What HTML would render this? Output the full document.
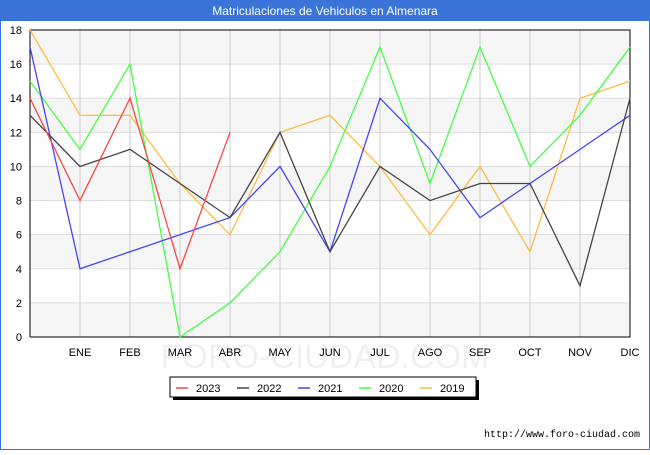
<!DOCTYPE html>
<html><head><meta charset="utf-8"><style>
body{margin:0;width:650px;height:450px;overflow:hidden;background:#fff;font-family:"Liberation Sans","DejaVu Sans",sans-serif}
</style></head><body>
<svg id="c" width="650" height="450" xmlns="http://www.w3.org/2000/svg">
<rect x="0.5" y="0.5" width="649" height="449" fill="#fff" stroke="#3a74d8"/>
<rect x="0" y="0" width="650" height="21" fill="#3a74d8"/>
<text x="325" y="15" text-anchor="middle" font-size="12" fill="#fff">Matriculaciones de Vehiculos en Almenara</text>
<text x="325" y="368" text-anchor="middle" font-size="34" fill="#eef0f6">FORO-CIUDAD.COM</text>
<g id="plot"></g>
<text x="640" y="437" text-anchor="end" font-size="10" font-family="Liberation Mono,monospace" fill="#000">http://www.foro-ciudad.com</text>
</svg>
<script>
const months=["","ENE","FEB","MAR","ABR","MAY","JUN","JUL","AGO","SEP","OCT","NOV","DIC"];
const yTicks=[0,2,4,6,8,10,12,14,16,18];
const years=["2023","2022","2021","2020","2019"];
const colors=["#ff4444","#444444","#4444ff","#44ff44","#ffbb44"];
const s2023=[14,8,14,4,12];
const s2022=[13,10,11,9,7,12,5,10,8,9,9,3,14];
const s2021=[17,4,5,6,7,10,5,14,11,7,9,11,13];
const s2020=[15,11,16,0,2,5,10,17,9,17,10,13,17];
const s2019=[18,13,13,9,6,12,13,10,6,10,5,14,15];
const series=[s2023,s2022,s2021,s2020,s2019];
const X0=30,X1=630,Y0=337,Y1=30,YMAX=18;
const x=i=>X0+i*(X1-X0)/(months.length-1);
const y=v=>Y0-v*(Y0-Y1)/YMAX;
const NS="http://www.w3.org/2000/svg";
const g=document.getElementById('plot');
function mk(t,a){const e=document.createElementNS(NS,t);for(const k in a)e.setAttribute(k,a[k]);g.appendChild(e);return e;}
for(let i=0;i<yTicks.length-1;i++){
  if((yTicks.length-2-i)%2===0){const b=mk('rect',{x:X0,y:y(yTicks[i+1]),width:X1-X0,height:y(yTicks[i])-y(yTicks[i+1]),fill:'#f6f6f6'});
  
  }
}
yTicks.forEach(v=>{
  const l=mk('line',{x1:X0,x2:X1,y1:y(v),y2:y(v),stroke:'#dddddd'});
  
  
  const t=mk('text',{x:X0-8,y:y(v)+4,'text-anchor':'end','font-size':11,fill:'#000'});t.textContent=v;
  
  
});
months.forEach((m,i)=>{
  if(i>0){const l=mk('line',{x1:x(i),x2:x(i),y1:Y1,y2:Y0,stroke:'#cccccc'});
  
  }
  const t=mk('text',{x:x(i),y:356,'text-anchor':'middle','font-size':11,fill:'#000'});t.textContent=m;
  
  
});
const ax=mk('path',{d:`M${X0},${Y0}V${Y1}H${X1}V${Y0}H${X0}`,fill:'none',stroke:'#000'});


series.slice().reverse().forEach((s,ri)=>{
  const k=series.length-1-ri;
  const p=mk('polyline',{points:s.map((v,i)=>x(i)+','+y(v)).join(' '),fill:'none',stroke:colors[k],'stroke-width':1.3});
  
  
});
// legend
const lg=mk('rect',{x:173,y:380,width:306,height:20,fill:'#000'});


const lb=mk('rect',{x:170,y:377,width:306,height:20,fill:'#fff',stroke:'#000'});


years.forEach((yr,i)=>{
  const lx=176+i*61;
  const l=mk('line',{x1:lx,x2:lx+12,y1:388,y2:388,stroke:colors[i],'stroke-width':1.5});
  
  
  const t=mk('text',{x:lx+20,y:392,'font-size':11,fill:'#000'});t.textContent=yr;
  
  
});
</script>
</body></html>
